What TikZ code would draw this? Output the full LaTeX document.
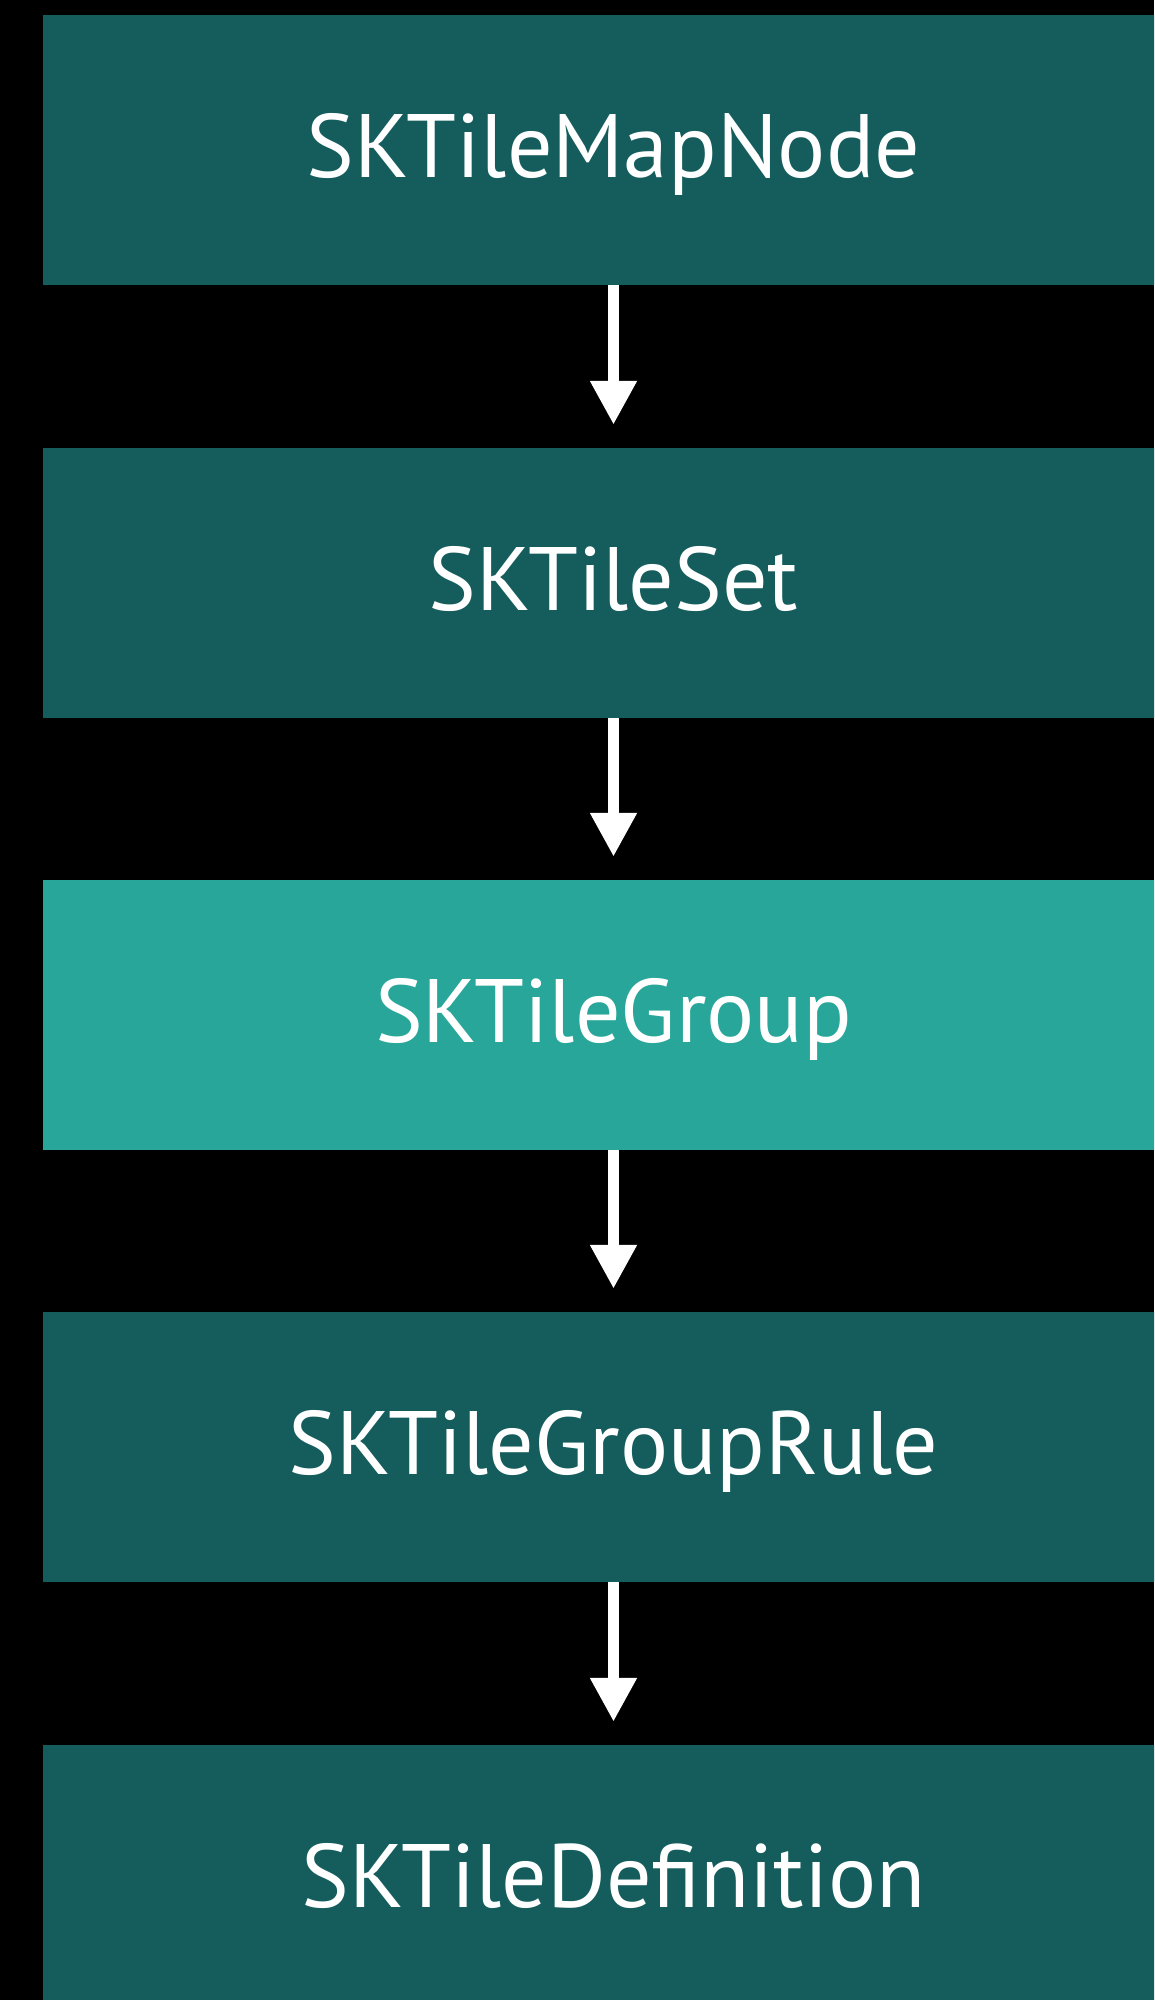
\documentclass[tikz,border=0pt]{standalone}
\usepackage{fontspec}
\setmainfont{PT Sans}
\usetikzlibrary{arrows.meta}
\definecolor{darkteal}{HTML}{145D5C}
\definecolor{lightteal}{HTML}{27A699}
\begin{document}
\begin{tikzpicture}[x=1pt,y=-1pt,
  box/.style={rectangle, fill=darkteal, minimum width=1141pt, minimum height=270pt,
    inner sep=0pt, text=white, font=\fontsize{90}{100}\selectfont,
    text height=70pt, text depth=16pt},
  hl/.style={fill=lightteal},
  link/.style={draw=white, line width=11pt, shorten >=23pt,
    -{Triangle[width=44pt,length=44pt]}}]
\fill[black] (0,0) rectangle (1154,2000);
\useasboundingbox (0,0) rectangle (1154,2000);
\clip (0,0) rectangle (1154,2000);
\node[box] (n1) at (613.5,150) {SKTileMapNode};
\node[box] (n2) at (613.5,583) {SKTileSet};
\node[box,hl] (n3) at (613.5,1015) {SKTileGroup};
\node[box] (n4) at (613.5,1447) {SKTileGroupRule};
\node[box] (n5) at (613.5,1880) {SKTileDefinition};
\draw[link] (n1.south) -- (n2.north);
\draw[link] (n2.south) -- (n3.north);
\draw[link] (n3.south) -- (n4.north);
\draw[link] (n4.south) -- (n5.north);
\end{tikzpicture}
\end{document}
